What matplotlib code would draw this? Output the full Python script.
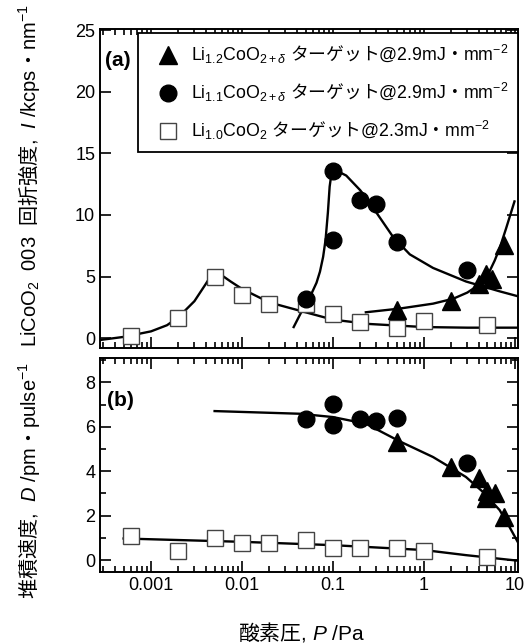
import matplotlib
matplotlib.use("Agg")
import matplotlib.pyplot as plt
from matplotlib.ticker import LogLocator, NullFormatter, FixedLocator, MultipleLocator

plt.rcParams['font.family'] = ['Liberation Sans', 'Noto Sans CJK JP']
plt.rcParams['mathtext.fontset'] = 'custom'
plt.rcParams['mathtext.rm'] = 'Liberation Sans'
plt.rcParams['mathtext.it'] = 'Liberation Sans:italic'
plt.rcParams['mathtext.bf'] = 'Liberation Sans:bold'
plt.rcParams['mathtext.sf'] = 'Noto Sans CJK JP'   # Japanese inside math strings

# (a) XRD 003 intensity
sq_p = [0.0006, 0.002, 0.005, 0.01, 0.02, 0.05, 0.1, 0.2, 0.5, 1.0, 5.0]
sq_i = [0.2, 1.6, 5.0, 3.5, 2.8, 2.8, 2.0, 1.3, 0.8, 1.4, 1.1]
ci_p = [0.05, 0.1, 0.1, 0.2, 0.3, 0.5, 3.0]
ci_i = [3.2, 8.0, 13.6, 11.2, 10.9, 7.8, 5.5]
tr_p = [0.5, 2.0, 4.0, 4.8, 5.6, 7.6]
tr_i = [2.3, 3.0, 4.4, 5.2, 4.8, 7.6]

# fitted guide curves (a)
fit_sq_p = [2.75e-4, 5e-4, 0.001, 0.0015, 0.002, 0.003, 0.004, 0.0045, 0.005,
            0.0055, 0.006, 0.0075, 0.01, 0.02, 0.05, 0.1, 0.25, 1.0, 3.0, 10.8]
fit_sq_i = [-0.15, 0.1, 0.55, 1.05, 1.7, 3.0, 4.4, 5.0, 5.3,
            5.3, 5.1, 4.6, 4.0, 2.9, 2.1, 1.5, 1.15, 0.9, 0.85, 0.85]
fit_ci_p = [0.037, 0.047, 0.058, 0.066, 0.072, 0.078, 0.083, 0.088, 0.092,
            0.096, 0.1, 0.12, 0.14, 0.2, 0.3, 0.46, 0.7, 1.26, 2.9, 6.8, 10.8]
fit_ci_i = [0.9, 2.4, 3.6, 4.5, 5.4, 6.6, 8.0, 10.2, 12.3,
            13.3, 13.6, 13.45, 13.2, 12.0, 10.2, 8.2, 6.8, 5.7, 4.6, 3.8, 3.4]
fit_tr_p = [0.23, 0.54, 1.26, 2.1, 3.0, 3.8, 4.5, 5.25, 6.0, 6.8, 8.0, 9.9]
fit_tr_i = [2.1, 2.4, 2.8, 3.2, 3.7, 4.2, 4.8, 5.4, 6.3, 7.3, 8.9, 11.1]

# (b) deposition rate
sq_d = [1.1, 0.4, 1.0, 0.75, 0.75, 0.9, 0.55, 0.55, 0.55, 0.4, 0.15]
ci_d = [6.35, 7.05, 6.1, 6.35, 6.25, 6.4, 4.35]
trb_p = [0.5, 2.0, 4.0, 4.8, 5.0, 6.0, 7.6]
trb_d = [5.3, 4.2, 3.7, 2.8, 3.1, 3.0, 1.95]

fit_b1_p = [0.005, 0.043, 0.1, 0.23, 0.54, 1.26, 1.9, 2.9, 4.45, 6.8, 8.7, 10.8]
fit_b1_d = [6.71, 6.59, 6.44, 6.14, 5.35, 4.64, 4.2, 3.74, 3.07, 2.25, 1.5, 0.8]
fit_b2_p = [0.0005, 0.01, 0.1, 1.0, 2.9, 10.8]
fit_b2_d = [0.97, 0.82, 0.67, 0.45, 0.22, -0.03]

xticks = [0.001, 0.01, 0.1, 1, 10]
xticklabels = ['0.001', '0.01', '0.1', '1', '10']

legend_labels = [
    r'Li$_{1.2}$CoO$_{2+\delta}$ $\mathsf{ターゲット}$@2.9mJ$\mathsf{・}$mm$^{-2}$',
    r'Li$_{1.1}$CoO$_{2+\delta}$ $\mathsf{ターゲット}$@2.9mJ$\mathsf{・}$mm$^{-2}$',
    r'Li$_{1.0}$CoO$_{2}$ $\mathsf{ターゲット}$@2.3mJ$\mathsf{・}$mm$^{-2}$',
]
ylabel_a = r'LiCoO$_2$  003  $\mathsf{回折強度}$,  $I$ /kcps$\mathsf{・}$nm$^{-1}$'
ylabel_b = r'$\mathsf{堆積速度}$,  $D$ /pm$\mathsf{・}$pulse$^{-1}$'
xlabel = r'$\mathsf{酸素圧}$, $P$ /Pa'

fig = plt.figure(figsize=(5.25, 6.43), dpi=100)
ax1 = fig.add_axes([0.1905, 0.4588, 0.796, 0.4961])
ax2 = fig.add_axes([0.1905, 0.1104, 0.796, 0.3328])

sq_kw = dict(ls='none', marker='s', ms=11, mfc='white', mec='#444444', mew=1.0)
ci_kw = dict(ls='none', marker='o', ms=12, color='black')
tr_kw = dict(ls='none', marker='^', ms=13, color='black')
line_kw = dict(color='black', lw=1.7)

ax1.plot(fit_sq_p, fit_sq_i, **line_kw)
ax1.plot(fit_ci_p, fit_ci_i, **line_kw)
ax1.plot(fit_tr_p, fit_tr_i, **line_kw)
h3, = ax1.plot(sq_p, sq_i, **sq_kw)
h2, = ax1.plot(ci_p, ci_i, **ci_kw)
h1, = ax1.plot(tr_p, tr_i, **tr_kw)

ax2.plot(fit_b1_p, fit_b1_d, **line_kw)
ax2.plot(fit_b2_p, fit_b2_d, **line_kw)
ax2.plot(sq_p, sq_d, **sq_kw)
ax2.plot(ci_p, ci_d, **ci_kw)
ax2.plot(trb_p, trb_d, **tr_kw)

for ax in (ax1, ax2):
    ax.set_xscale('log')
    ax.set_xlim(2.75e-4, 10.8)
    ax.xaxis.set_major_locator(FixedLocator(xticks))
    ax.xaxis.set_minor_locator(LogLocator(base=10, subs=range(2, 10), numticks=20))
    ax.xaxis.set_minor_formatter(NullFormatter())
    ax.tick_params(which='both', direction='in', top=True, right=True, width=1.2,
                   labelsize=13)
    ax.tick_params(which='major', length=8)
    ax.tick_params(which='minor', length=4)
    for s in ax.spines.values():
        s.set_linewidth(1.4)

ax1.set_xticklabels([])
ax2.set_xticklabels(xticklabels)

ax1.set_ylim(-0.8, 25.1)
ax1.yaxis.set_major_locator(MultipleLocator(5))
ax2.set_ylim(-0.54, 9.1)
ax2.yaxis.set_major_locator(MultipleLocator(2))
ax2.yaxis.set_minor_locator(MultipleLocator(1))

ax1.text(0.043, 0.90, '(a)', transform=ax1.transAxes, fontsize=15,
         fontweight='bold', ha='center', va='center')
ax2.text(0.048, 0.80, '(b)', transform=ax2.transAxes, fontsize=15,
         fontweight='bold', ha='center', va='center')

leg = ax1.legend([h1, h2, h3], legend_labels, loc='upper right',
                 bbox_to_anchor=(1.0, 0.987), borderaxespad=0, fancybox=False,
                 framealpha=1, edgecolor='black', fontsize=12.8,
                 handletextpad=0.2, labelspacing=0.85, borderpad=0.55,
                 handlelength=2.2)
leg.get_frame().set_linewidth(1.3)

fig.text(29 / 525, 1 - 176 / 643, ylabel_a, rotation=90, ha='center',
         va='center', fontsize=14.5)
fig.text(29 / 525, 1 - 481 / 643, ylabel_b, rotation=90, ha='center',
         va='center', fontsize=14.5)
fig.text(302 / 525, 1 - 632 / 643, xlabel, ha='center', va='center',
         fontsize=15)

fig.savefig('out.png', dpi=100)
